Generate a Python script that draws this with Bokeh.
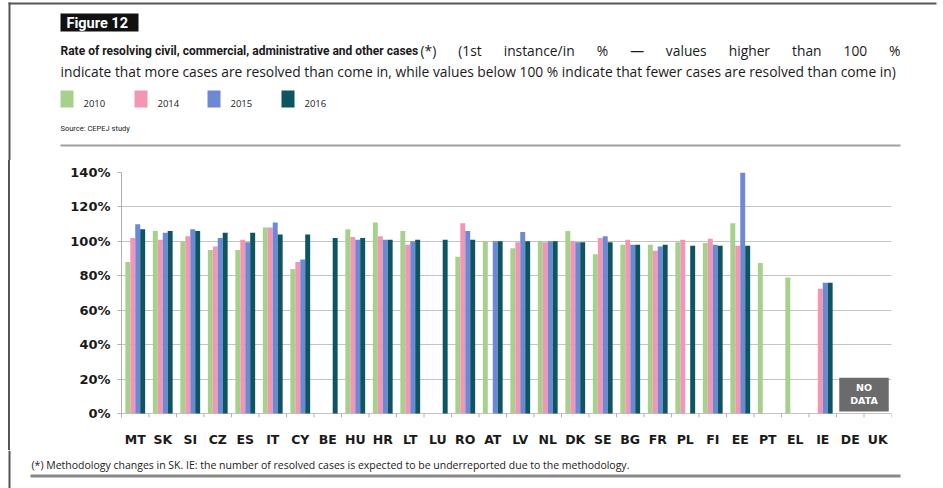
from bokeh.plotting import figure
from bokeh.layouts import column, row
from bokeh.models import ColumnDataSource, FactorRange, Range1d, FixedTicker, PrintfTickFormatter, Div
from bokeh.transform import dodge
from bokeh.core.properties import value
from bokeh.embed import file_html
from bokeh.resources import INLINE

nan = float("nan")

countries = ["MT", "SK", "SI", "CZ", "ES", "IT", "CY", "BE", "HU", "HR", "LT", "LU", "RO", "AT",
             "LV", "NL", "DK", "SE", "BG", "FR", "PL", "FI", "EE", "PT", "EL", "IE", "DE", "UK"]
years = ["2010", "2014", "2015", "2016"]
v2010 = [88, 106, 100, 95, 95, 108, 84, nan, 107, 111, 106, nan, 91, 100,
         96, 100, 106, 92.5, 98, 98, 99.5, 99, 110.5, 87.5, 79, nan, nan, nan]
v2014 = [102, 101, 103, 97, 101, 108, 88, nan, 102.5, 103, 98, nan, 110.5, nan,
         99.5, 99.5, 100, 102, 101, 94.5, 101, 101.5, 97.5, nan, nan, 72.5, nan, nan]
v2015 = [110, 105, 107, 102, 99.5, 111, 89.5, nan, 101, 101, 100, nan, 106, 100,
         105.5, 100, 99.5, 103, 98, 97, nan, 98, 140, nan, nan, 76, nan, nan]
v2016 = [107, 106, 106, 105, 105, 104, 104, 102, 102, 101, 101, 101, 101, 100,
         100, 100, 99.5, 99.5, 98, 98, 97.5, 97.5, 97.5, nan, nan, 76, nan, nan]
y_ticks = [0, 20, 40, 60, 80, 100, 120, 140]
no_data = ["DE", "UK"]

colors = ["#a6d18c", "#f296b4", "#6d89d6", "#0d5561"]

COND = "Roboto"
SANS = "Open Sans"
BOLDAX = "DejaVu Sans"
INK = "#1a1a1a"
BORDER = "#555555"

PAGE_W = 943
TOP_H = 160          # reference rows 0..160
MID_H = 290          # reference rows 160..450
BOT_H = 38           # reference rows 450..488
STRIP_W = 11         # reference columns 0..11 beside the chart

# approximate Open Sans advance widths (em) used to justify the first title line
ADV = {" ": .26, "(": .296, ")": .296, "*": .55, "1": .572, "0": .572, "s": .479, "t": .361,
       "i": .258, "n": .613, "a": .556, "c": .479, "e": .561, "/": .372, "%": .823,
       "\u2014": 1.0, "v": .5, "l": .258, "u": .613, "h": .613, "g": .546, "r": .408}


def text_w(s, size):
    return sum(ADV.get(ch, .55) for ch in s) * size


def canvas_fig(w, h, x0, y0):
    f = figure(width=w, height=h, x_range=Range1d(x0, x0 + w), y_range=Range1d(y0 + h, y0),
               min_border=0, x_axis_location=None, y_axis_location=None,
               toolbar_location=None, output_backend="svg")
    f.outline_line_color = None
    f.xgrid.visible = False
    f.ygrid.visible = False
    f.border_fill_color = "white"
    return f


def txt(f, s, x, y, size, font=SANS, bold=False, color=INK, align="left", baseline="middle"):
    f.text(x=[x], y=[y], text=[s], text_font=value(font), text_font_size=value(f"{size}px"),
           text_font_style="bold" if bold else "normal", text_color=color,
           text_align=align, text_baseline=baseline)


def rect(f, x0, y0, x1, y1, color):
    f.quad(left=[x0], right=[x1], top=[y0], bottom=[y1], fill_color=color, line_color=None)


# ---------------- top block: title, legend, source ----------------
top = canvas_fig(PAGE_W, TOP_H, 0, 0)
rect(top, 8, 2, 936, 4, BORDER)
rect(top, 8, 2, 10, TOP_H, BORDER)
rect(top, 60, 13, 138, 31, "#111111")
txt(top, "Figure 12", 66, 22.5, 14.5, font=COND, bold=True, color="white")
txt(top, "Rate of resolving civil, commercial, administrative and other cases", 60, 50, 12,
    font=COND, bold=True)

# justified remainder of line 1
T_SIZE = 13.8
words = "(*) (1st instance/in % \u2014 values higher than 100 %".split(" ")
x_start, x_end = 420, 900
widths = [text_w(w, T_SIZE) for w in words]
gap = (x_end - x_start - sum(widths)) / (len(words) - 1)
xpos = x_start
for i, (w, wd) in enumerate(zip(words, widths)):
    if i == len(words) - 1:
        txt(top, w, x_end, 50, T_SIZE, align="right")
    else:
        txt(top, w, xpos, 50, T_SIZE)
    xpos += wd + gap

txt(top, "indicate that more cases are resolved than come in, while values below 100 % indicate "
         "that fewer cases are resolved than come in)", 60, 71, T_SIZE)
leg_x = [60, 134, 207, 281]
for yr, col, lx in zip(years, colors, leg_x):
    rect(top, lx, 90, lx + 13, 107, col)
    txt(top, yr, lx + 23, 103, 9.5, font=SANS)
txt(top, "Source: CEPEJ study", 60, 128, 7.5, font=COND)
rect(top, 60, 144, 900, 146, "#a0a0a0")

# ---------------- chart ----------------
FL, FR, FT, F0 = 121, 891, 172, 413   # frame left/right/top and the 0 % line (reference coords)
PX_PER_UNIT = (F0 - FT) / 140.0
TICK_LEN = 4
FB = F0 + TICK_LEN
CW = PAGE_W - STRIP_W
p = figure(width=CW, height=MID_H, x_range=FactorRange(*countries, range_padding=0),
           y_range=Range1d(-TICK_LEN / PX_PER_UNIT, 140), output_backend="svg", toolbar_location=None,
           min_border_left=FL - STRIP_W, min_border_right=CW - (FR - STRIP_W),
           min_border_top=FT - TOP_H, min_border_bottom=(TOP_H + MID_H) - FB)
p.outline_line_color = None
p.border_fill_color = "white"

src = ColumnDataSource(dict(country=countries, y2010=v2010, y2014=v2014, y2015=v2015, y2016=v2016))
offsets = [-0.27, -0.09, 0.09, 0.27]
for yr, col, off in zip(years, colors, offsets):
    p.vbar(x=dodge("country", off, range=p.x_range), top="y" + yr, width=0.18, source=src,
           fill_color=col, line_color=None)

# category boundary ticks under the 0 % line
p.segment(x0=dodge("country", -0.5, range=p.x_range), x1=dodge("country", -0.5, range=p.x_range),
          y0=0, y1=-TICK_LEN / PX_PER_UNIT, source=src, line_color="#b0b0b0", line_width=1)
last = ColumnDataSource(dict(country=[countries[-1]]))
p.segment(x0=dodge("country", 0.5, range=p.x_range), x1=dodge("country", 0.5, range=p.x_range),
          y0=0, y1=-TICK_LEN / PX_PER_UNIT, source=last, line_color="#b0b0b0", line_width=1)

nd = ColumnDataSource(dict(country=[no_data[0]], yc=[11], h=[19.6], ty1=[15.3], ty2=[7.6]))
p.rect(x=dodge("country", 0.5, range=p.x_range), y="yc", width=1.8, height="h", source=nd,
       fill_color="#6b6b6b", line_color=None)
p.text(x=dodge("country", 0.5, range=p.x_range), y="ty1", text=value("NO"), source=nd,
       text_font=value(BOLDAX), text_font_style="bold", text_font_size=value("9.5px"),
       text_color="white", text_align="center", text_baseline="middle")
p.text(x=dodge("country", 0.5, range=p.x_range), y="ty2", text=value("DATA"), source=nd,
       text_font=value(BOLDAX), text_font_style="bold", text_font_size=value("9.5px"),
       text_color="white", text_align="center", text_baseline="middle")

p.yaxis.ticker = FixedTicker(ticks=y_ticks)
p.yaxis.formatter = PrintfTickFormatter(format="%d%%")
p.yaxis.axis_line_color = "#b0b0b0"
p.yaxis.major_tick_line_color = "#b0b0b0"
p.yaxis.major_tick_out = 4
p.yaxis.major_tick_in = 0
p.yaxis.minor_tick_line_color = None
p.yaxis.major_label_text_font = BOLDAX
p.yaxis.major_label_text_font_style = "bold"
p.yaxis.major_label_text_font_size = "13px"
p.yaxis.major_label_text_color = INK
p.yaxis.major_label_standoff = 7

p.xaxis.axis_line_color = None
p.xaxis.major_tick_line_color = None
p.xaxis.major_label_text_font = BOLDAX
p.xaxis.major_label_text_font_style = "bold"
p.xaxis.major_label_text_font_size = "12.5px"
p.xaxis.major_label_text_color = INK
p.xaxis.major_label_standoff = 8

p.xgrid.grid_line_color = None
p.ygrid.grid_line_color = "#c4c4c4"

strip = Div(text='<div style="margin-left:8px;width:2px;height:%dpx;background-color:%s;"></div>'
                 % (MID_H, BORDER),
            width=STRIP_W, height=MID_H, margin=0)

# ---------------- bottom block: footnote ----------------
bot = canvas_fig(PAGE_W, BOT_H, 0, TOP_H + MID_H)
rect(bot, 8, 450, 10, 488, BORDER)
txt(bot, "(*) Methodology changes in SK. IE: the number of resolved cases is expected to be "
         "underreported due to the methodology.", 31, 464, 10.5, font=SANS)
rect(bot, 30, 474, 900, 477, "#888888")

layout = column(top, row(strip, p, spacing=0), bot, spacing=0)
open("out.html", "w").write(file_html(layout, INLINE))
